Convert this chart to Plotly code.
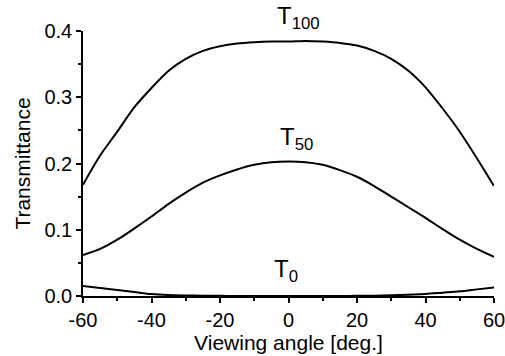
import plotly.graph_objects as go

angles = [-60, -55, -50, -45, -40, -35, -30, -25, -20, -15, -10, -5, 0,
          5, 10, 15, 20, 25, 30, 35, 40, 45, 50, 55, 60]
t100 = [0.168, 0.212, 0.248, 0.285, 0.314, 0.340, 0.358, 0.370, 0.377, 0.381, 0.383, 0.384, 0.384,
        0.385, 0.384, 0.382, 0.378, 0.370, 0.358, 0.340, 0.315, 0.283, 0.248, 0.208, 0.166]
t50 = [0.062, 0.071, 0.085, 0.102, 0.120, 0.139, 0.156, 0.171, 0.182, 0.191, 0.198, 0.202, 0.203,
       0.202, 0.198, 0.190, 0.180, 0.166, 0.150, 0.134, 0.118, 0.101, 0.085, 0.071, 0.059]
t0 = [0.015, 0.012, 0.009, 0.006, 0.003, 0.0015, 0.0008, 0.0004, 0.0002, 0.0001, 0.0, 0.0, 0.0,
      0.0, 0.0, 0.0001, 0.0002, 0.0005, 0.001, 0.002, 0.003, 0.005, 0.007, 0.010, 0.013]

x_ticks = [-60, -40, -20, 0, 20, 40, 60]
x_ticktext = ["-60", "-40", "-20", "0", "20", "40", "60"]
y_ticks = [0.0, 0.1, 0.2, 0.3, 0.4]
y_ticktext = ["0.0", "0.1", "0.2", "0.3", "0.4"]

labels = ["T<sub>100</sub>", "T<sub>50</sub>", "T<sub>0</sub>"]
label_x = [3.0, 2.2, -0.7]
# vertical label positions as fraction of plot height (paper coords)
label_pos = [0.985, 0.53, 0.03]

FONT = "Liberation Sans, Arial, sans-serif"

fig = go.Figure()
for series in (t100, t50, t0):
    fig.add_trace(go.Scatter(x=angles, y=series, mode="lines",
                             line=dict(color="black", width=2, shape="spline", smoothing=0.8),
                             showlegend=False))

for txt, lx, ly in zip(labels, label_x, label_pos):
    fig.add_annotation(x=lx, y=ly, xref="x", yref="paper", text=txt, showarrow=False,
                       xanchor="center", yanchor="bottom",
                       font=dict(family=FONT, size=24, color="black"))

axis_common = dict(showline=True, linecolor="black", linewidth=1.5, ticks="outside",
                   tickcolor="black", tickwidth=1.5, ticklen=5, showgrid=False,
                   zeroline=False, mirror=False, ticklabeloverflow="allow", automargin=False,
                   tickfont=dict(family=FONT, size=20, color="black"))

fig.update_xaxes(range=[-60, 60], tickvals=x_ticks, ticktext=x_ticktext,
                 minor=dict(dtick=10, tick0=0, ticks="outside", ticklen=3, tickcolor="black", tickwidth=1.5),
                 title=dict(text="Viewing angle [deg.]", font=dict(family=FONT, size=21, color="black"), standoff=2),
                 **axis_common)
fig.update_yaxes(range=[0, 0.4], tickvals=y_ticks, ticktext=y_ticktext,
                 minor=dict(dtick=0.05, tick0=0, ticks="outside", ticklen=3, tickcolor="black", tickwidth=1.5),
                 title=dict(text="Transmittance", font=dict(family=FONT, size=21, color="black"), standoff=8),
                 **axis_common)

fig.update_layout(width=505, height=356, margin=dict(l=83, r=11, t=31, b=60),
                  paper_bgcolor="white", plot_bgcolor="white")

fig.write_html("out.html", config={"displayModeBar": False},
               post_script="document.body.style.margin='0';document.body.style.padding='0';")
